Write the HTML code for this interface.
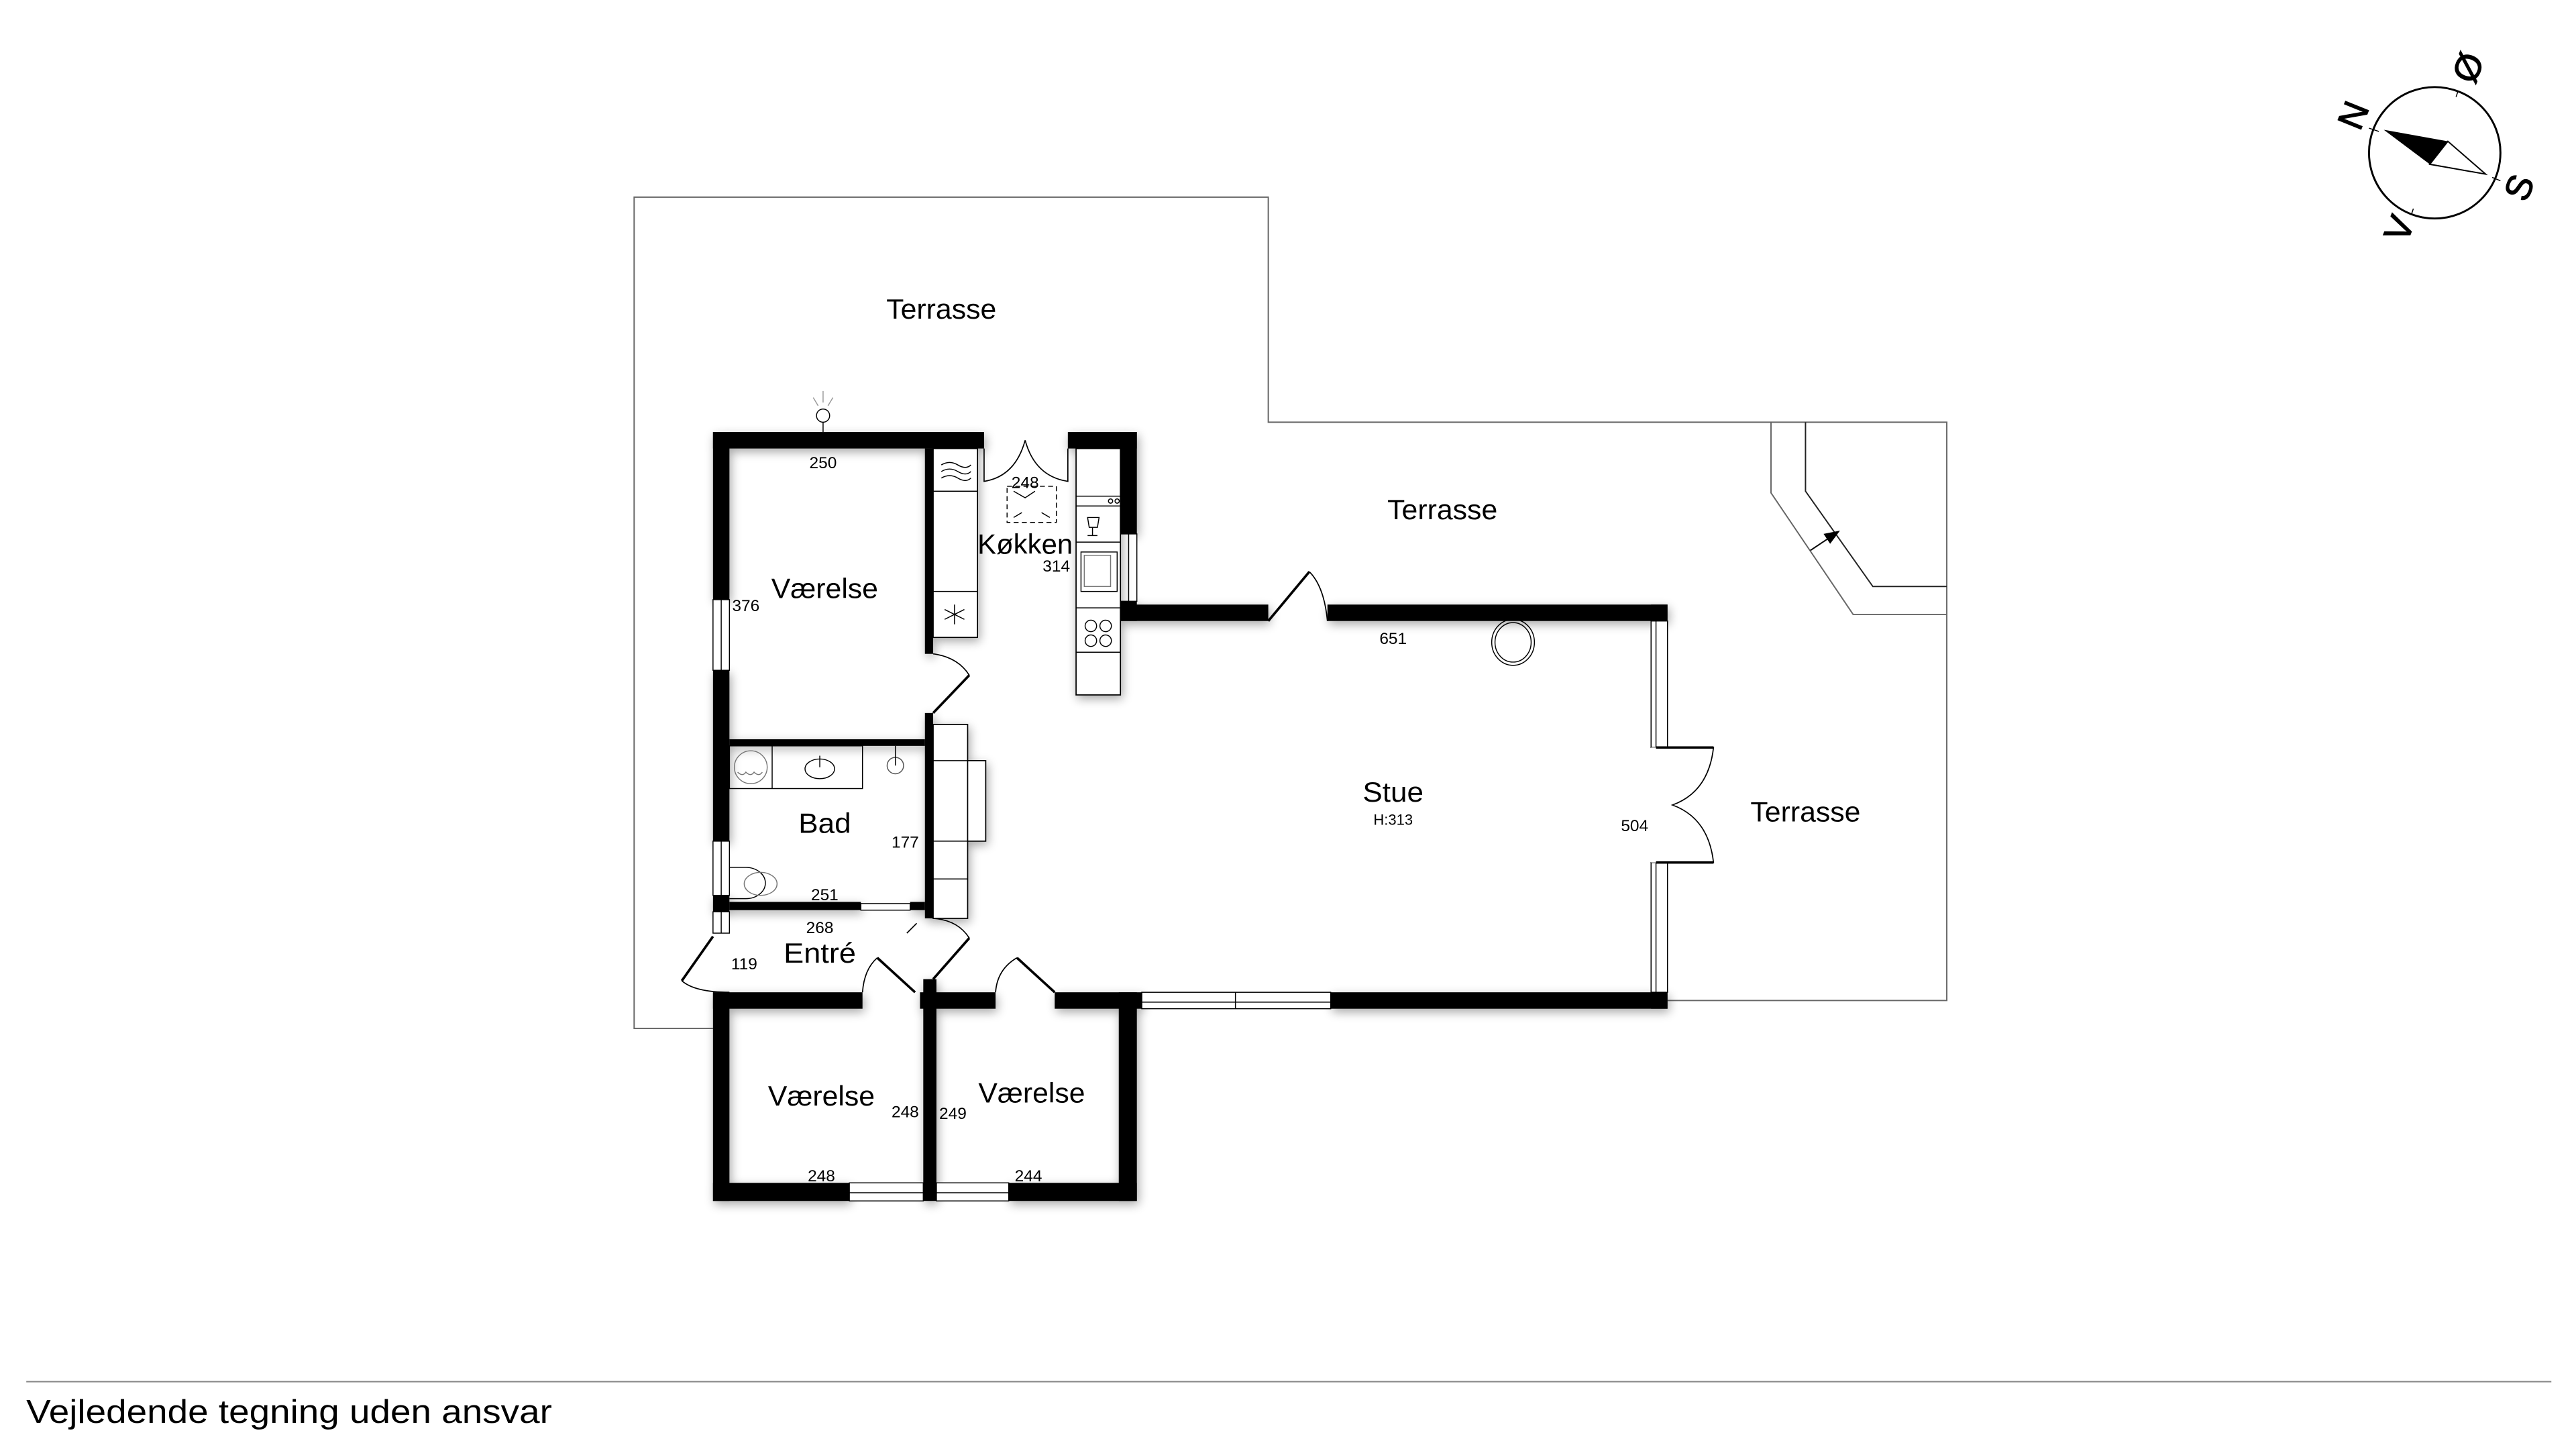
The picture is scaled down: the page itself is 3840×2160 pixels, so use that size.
<!DOCTYPE html>
<html><head><meta charset="utf-8"><style>
html,body{margin:0;padding:0;background:#fff}
svg{display:block}
text{font-family:"Liberation Sans",sans-serif;fill:#000}
</style></head><body>
<svg width="3840" height="2160" viewBox="0 0 1568 882" xmlns="http://www.w3.org/2000/svg">
<defs>
<filter id="sh" x="-10%" y="-10%" width="120%" height="120%"><feGaussianBlur in="SourceAlpha" stdDeviation="3"/><feOffset dx="1" dy="2"/><feComponentTransfer><feFuncA type="linear" slope="0.35"/></feComponentTransfer><feMerge><feMergeNode/><feMergeNode in="SourceGraphic"/></feMerge></filter>
</defs>
<g fill="none" stroke="#666" stroke-width="0.8">
<polyline points="434,626 386,626 386,120 772,120 772,257 1185,257 1185,609 1015,609"/>
<polyline points="1078,257 1078,300 1128,374 1185,374"/>
<polyline points="1099,257 1099,299 1140,357 1185,357" stroke="#222"/>
</g>
<line x1="1102" y1="335" x2="1114" y2="327" stroke="#000" stroke-width="0.8"/>
<polygon points="1120,323 1110,325 1114,331" fill="#000"/>

<g fill="#000" filter="url(#sh)">
<rect x="434" y="263" width="165" height="10"/>
<rect x="650" y="263" width="42" height="10"/>
<rect x="682" y="263" width="10" height="62"/>
<rect x="682" y="366" width="10" height="12"/>
<rect x="434" y="263" width="10" height="102"/>
<rect x="434" y="408" width="10" height="104"/>
<rect x="434" y="545" width="10" height="10"/>
<rect x="434" y="604" width="10" height="127"/>
<rect x="682" y="368" width="90" height="10"/>
<rect x="808" y="368" width="207" height="10"/>
<rect x="1005" y="368" width="10" height="10"/>
<rect x="1005" y="604" width="10" height="10"/>
<rect x="810" y="604" width="205" height="10"/>
<rect x="682" y="604" width="13" height="10"/>
<rect x="563" y="273" width="5" height="125"/>
<rect x="563" y="434" width="5" height="125"/>
<rect x="444" y="450" width="119" height="4"/>
<rect x="444" y="549" width="80" height="5"/>
<rect x="554" y="549" width="9" height="5"/>
<rect x="434" y="604" width="91" height="10"/>
<rect x="560" y="604" width="46" height="10"/>
<rect x="642" y="604" width="40" height="10"/>
<rect x="681" y="604" width="11" height="127"/>
<rect x="562" y="596" width="8" height="135"/>
<rect x="434" y="720" width="83" height="11"/>
<rect x="614" y="720" width="78" height="11"/>
</g>
<g fill="#fff" stroke="#000" stroke-width="0.6">
<rect x="434" y="365" width="10" height="43"/><line x1="439" y1="365" x2="439" y2="408"/>
<rect x="434" y="512" width="10" height="33"/><line x1="439" y1="512" x2="439" y2="545"/>
<rect x="434" y="555" width="10" height="13"/><line x1="439" y1="555" x2="439" y2="568"/>
<rect x="682" y="325" width="10" height="41"/><line x1="687" y1="325" x2="687" y2="366"/>
<rect x="1005" y="378" width="10" height="77"/><line x1="1008" y1="378" x2="1008" y2="455"/>
<rect x="1005" y="525" width="10" height="79"/><line x1="1008" y1="525" x2="1008" y2="604"/>
<rect x="695" y="604" width="115" height="10"/><line x1="695" y1="610" x2="810" y2="610"/><line x1="752" y1="604" x2="752" y2="614"/>
<rect x="517" y="720" width="45" height="11"/><line x1="517" y1="726" x2="562" y2="726"/>
<rect x="570" y="720" width="44" height="11"/><line x1="570" y1="726" x2="614" y2="726"/>
<rect x="524" y="550" width="30" height="4"/>
</g>
<rect x="1005" y="455" width="10" height="70" fill="#fff"/>
<g fill="none" stroke="#000" stroke-width="0.7">
<path d="M599,273 V293 Q618,290 624,268"/>
<path d="M650,273 V293 Q630,290 624,268"/>
<path d="M568,398 Q583,400 590,411"/><line x1="590" y1="411" x2="568" y2="434" stroke-width="1.5"/>
<path d="M808,378 Q806,357 797,348"/><line x1="797" y1="348" x2="772" y2="378" stroke-width="1.5"/>
<path d="M1015,455 H1043 Q1040,482 1018,490 Q1040,498 1043,525 H1015"/>
<line x1="1008" y1="455" x2="1043" y2="455" stroke-width="1.5"/><line x1="1008" y1="525" x2="1043" y2="525" stroke-width="1.5"/>
<path d="M444,604 Q423,604 415,597"/><line x1="415" y1="597" x2="434" y2="570" stroke-width="1.5"/>
<path d="M568,559 Q583,560 590,571"/><line x1="590" y1="571" x2="568" y2="596" stroke-width="1.5"/>
<path d="M525,604 Q526,590 534,583"/><line x1="534" y1="583" x2="557" y2="604" stroke-width="1.5"/>
<path d="M606,604 Q607,590 619,583"/><line x1="619" y1="583" x2="642" y2="604" stroke-width="1.5"/>
<line x1="558" y1="562" x2="552" y2="568"/>
</g>
<g fill="#fff" stroke="#000" stroke-width="0.7" filter="url(#sh)">
<rect x="568" y="273" width="27" height="115"/>
<rect x="655" y="273" width="27" height="150"/>
<rect x="568" y="441" width="21" height="118"/>
<rect x="589" y="463" width="11" height="49"/>
</g>
<g fill="none" stroke="#000" stroke-width="0.6">
<line x1="568" y1="299" x2="595" y2="299"/><line x1="568" y1="360" x2="595" y2="360"/>
<path d="M573,283 q5,-3 10,0 t8,0 M573,287 q5,-3 10,0 t8,0 M573,291 q5,-3 10,0 t8,0"/>
<path d="M581,368 v12 M575,371 l12,6 M575,377 l12,-6"/>
<line x1="655" y1="302" x2="682" y2="302"/><line x1="655" y1="308" x2="682" y2="308"/>
<line x1="655" y1="330" x2="682" y2="330"/><line x1="655" y1="370" x2="682" y2="370"/><line x1="655" y1="397" x2="682" y2="397"/>
<rect x="658" y="336" width="22" height="24"/><rect x="660" y="338" width="16" height="19" stroke="#777"/>
<circle cx="664" cy="381" r="3.5"/><circle cx="673" cy="381" r="3.5"/><circle cx="664" cy="390" r="3.5"/><circle cx="673" cy="390" r="3.5"/>
<path d="M662,315 h7 l-1,6 h-5 z M665,321 v5 M662,326 h6"/>
<circle cx="676" cy="305" r="1.3"/><circle cx="680" cy="305" r="1.3"/>
<rect x="613" y="296" width="30" height="22" stroke-dasharray="3,2"/>
<path d="M617,299 l7,4 l6,-4 M617,315 l5,-3 M639,315 l-5,-3"/>
<line x1="568" y1="463" x2="589" y2="463"/><line x1="568" y1="512" x2="589" y2="512"/><line x1="568" y1="535" x2="589" y2="535"/>
<rect x="444" y="454" width="81" height="26"/><line x1="470" y1="454" x2="470" y2="480"/>
<circle cx="457" cy="467" r="10" stroke="#777"/><path d="M449,470 q3,3 5,0 q3,3 5,0 q3,3 5,0" stroke="#777"/>
<ellipse cx="499" cy="468" rx="9" ry="6"/><line x1="499" y1="460" x2="499" y2="467"/>
<circle cx="545" cy="466" r="5" stroke="#555"/><line x1="545" y1="454" x2="545" y2="466"/>
<path d="M444,528 h10 a10,8 0 0 1 0,19 h-10" /><ellipse cx="463" cy="538" rx="10" ry="7" stroke="#777"/>
<ellipse cx="921" cy="391" rx="13" ry="14"/><ellipse cx="921" cy="391" rx="11" ry="12"/>
<circle cx="501" cy="253" r="4"/><line x1="501" y1="257" x2="501" y2="263"/>
<path d="M501,238 v7 M495,242 l3,5 M507,242 l-3,5" stroke="#999"/>
</g>
<g text-anchor="middle">
<text x="573" y="194" font-size="17" textLength="67" lengthAdjust="spacingAndGlyphs">Terrasse</text>
<text x="878" y="316" font-size="17" textLength="67" lengthAdjust="spacingAndGlyphs">Terrasse</text>
<text x="1099" y="500" font-size="17" textLength="67" lengthAdjust="spacingAndGlyphs">Terrasse</text>
<text x="502" y="364" font-size="17" textLength="65" lengthAdjust="spacingAndGlyphs">Værelse</text>
<text x="624" y="337" font-size="17" textLength="58" lengthAdjust="spacingAndGlyphs">Køkken</text>
<text x="502" y="507" font-size="17" textLength="32" lengthAdjust="spacingAndGlyphs">Bad</text>
<text x="499" y="586" font-size="17" textLength="44" lengthAdjust="spacingAndGlyphs">Entré</text>
<text x="848" y="488" font-size="17" textLength="37" lengthAdjust="spacingAndGlyphs">Stue</text>
<text x="500" y="673" font-size="17" textLength="65" lengthAdjust="spacingAndGlyphs">Værelse</text>
<text x="628" y="671" font-size="17" textLength="65" lengthAdjust="spacingAndGlyphs">Værelse</text>
<g font-size="10">
<text x="501" y="285">250</text><text x="624" y="297">248</text><text x="643" y="348">314</text>
<text x="454" y="372">376</text><text x="848" y="392">651</text><text x="848" y="502" font-size="9">H:313</text>
<text x="995" y="506">504</text><text x="551" y="516">177</text><text x="502" y="548">251</text>
<text x="499" y="568">268</text><text x="453" y="590">119</text>
<text x="551" y="680">248</text><text x="580" y="681">249</text>
<text x="500" y="719">248</text><text x="626" y="719">244</text>
</g>
</g>
<g transform="translate(1482,93)">
<circle r="40" fill="none" stroke="#000" stroke-width="1.2"/>
<polygon points="-31,-14 8,-7 -3,7" fill="#000"/>
<polygon points="8,-7 -3,7 31,13" fill="#fff" stroke="#000" stroke-width="0.8"/>
<line x1="-40" y1="-15" x2="-34" y2="-13" stroke="#000" stroke-width="0.6"/>
<line x1="35" y1="15" x2="40" y2="17" stroke="#000" stroke-width="0.6"/>
<line x1="14" y1="-37" x2="13" y2="-34" stroke="#000" stroke-width="0.6"/>
<line x1="-14" y1="37" x2="-13" y2="34" stroke="#000" stroke-width="0.6"/>
<g font-size="22" text-anchor="middle" stroke="#000" stroke-width="0.5">
<text transform="translate(-50,-23) rotate(-68)" y="8">N</text>
<text transform="translate(51,21) rotate(-68)" y="8">S</text>
<text transform="translate(20,-52) rotate(-68)" y="8">Ø</text>
<text transform="translate(-22,46) rotate(-68)" y="8">V</text>
</g>
</g>
<line x1="16" y1="841" x2="1553" y2="841" stroke="#888" stroke-width="0.8"/>
<text x="16" y="866" font-size="20" textLength="320" lengthAdjust="spacingAndGlyphs">Vejledende tegning uden ansvar</text>
</svg>
</body></html>
